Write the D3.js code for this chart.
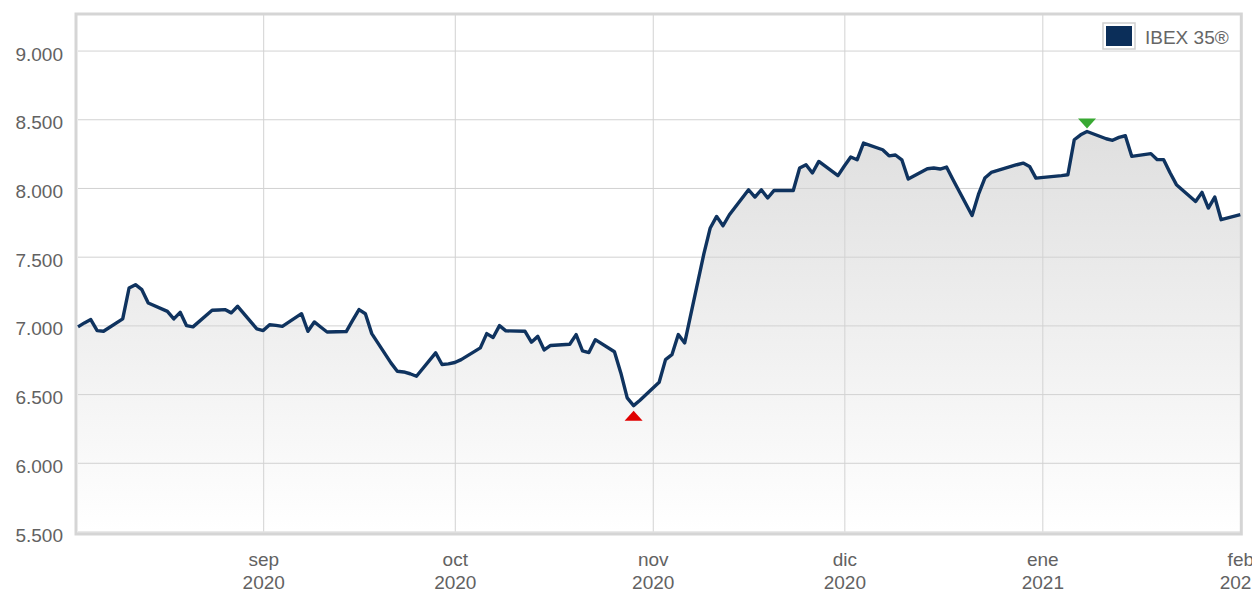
<!DOCTYPE html>
<html>
<head>
<meta charset="utf-8">
<script src="https://cdn.jsdelivr.net/npm/d3@7"></script>
<style>
  body { margin: 0; background: #fff; }
  svg { display: block; font-family: "Liberation Sans", Arial, sans-serif; }
</style>
</head>
<body>
<script>
// IBEX 35 daily close, 3 Aug 2020 - 1 Feb 2021
const days = [
  "2020-08-03","2020-08-04","2020-08-05","2020-08-06","2020-08-07",
  "2020-08-10","2020-08-11","2020-08-12","2020-08-13","2020-08-14",
  "2020-08-17","2020-08-18","2020-08-19","2020-08-20","2020-08-21",
  "2020-08-24","2020-08-25","2020-08-26","2020-08-27","2020-08-28",
  "2020-08-31","2020-09-01","2020-09-02","2020-09-03","2020-09-04",
  "2020-09-07","2020-09-08","2020-09-09","2020-09-10","2020-09-11",
  "2020-09-14","2020-09-15","2020-09-16","2020-09-17","2020-09-18",
  "2020-09-21","2020-09-22","2020-09-23","2020-09-24","2020-09-25",
  "2020-09-28","2020-09-29","2020-09-30","2020-10-01","2020-10-02",
  "2020-10-05","2020-10-06","2020-10-07","2020-10-08","2020-10-09",
  "2020-10-12","2020-10-13","2020-10-14","2020-10-15","2020-10-16",
  "2020-10-19","2020-10-20","2020-10-21","2020-10-22","2020-10-23",
  "2020-10-26","2020-10-27","2020-10-28","2020-10-29","2020-10-30",
  "2020-11-02","2020-11-03","2020-11-04","2020-11-05","2020-11-06",
  "2020-11-09","2020-11-10","2020-11-11","2020-11-12","2020-11-13",
  "2020-11-16","2020-11-17","2020-11-18","2020-11-19","2020-11-20",
  "2020-11-23","2020-11-24","2020-11-25","2020-11-26","2020-11-27",
  "2020-11-30","2020-12-01","2020-12-02","2020-12-03","2020-12-04",
  "2020-12-07","2020-12-08","2020-12-09","2020-12-10","2020-12-11",
  "2020-12-14","2020-12-15","2020-12-16","2020-12-17","2020-12-18",
  "2020-12-21","2020-12-22","2020-12-23","2020-12-24",
  "2020-12-28","2020-12-29","2020-12-30","2020-12-31",
  "2021-01-04","2021-01-05","2021-01-06","2021-01-07","2021-01-08",
  "2021-01-11","2021-01-12","2021-01-13","2021-01-14","2021-01-15",
  "2021-01-18","2021-01-19","2021-01-20","2021-01-21","2021-01-22",
  "2021-01-25","2021-01-26","2021-01-27","2021-01-28","2021-01-29",
  "2021-02-01"
];
const closes = [
  6989, 7018, 7042, 6962, 6957,
  7047, 7272, 7296, 7260, 7163,
  7102, 7047, 7095, 6998, 6989,
  7110, 7112, 7115, 7091, 7139,
  6974, 6962, 7005, 7000, 6993,
  7085, 6957, 7025, 6988, 6952,
  6955, 7037, 7115, 7085, 6940,
  6727, 6666, 6661, 6648, 6630,
  6800, 6715, 6720, 6730, 6751,
  6836, 6940, 6912, 6998, 6960,
  6957, 6878, 6920, 6821, 6854,
  6863, 6933, 6815, 6802, 6896,
  6808, 6654, 6472, 6416, 6455,
  6586, 6751, 6787, 6933, 6872,
  7520, 7709, 7793, 7725, 7805,
  7987, 7934, 7987, 7927, 7982,
  7982, 8145, 8169, 8109, 8193,
  8090, 8160, 8225, 8205, 8327,
  8278, 8234, 8240, 8205, 8065,
  8140, 8145, 8138, 8152, 8062,
  7800, 7953, 8072, 8113,
  8169, 8181, 8157, 8072,
  8090, 8096, 8351, 8387, 8411,
  8358, 8347, 8368, 8380, 8230,
  8250, 8206, 8206, 8111, 8024,
  7902, 7968, 7854, 7934, 7769,
  7806
];
const yTicks = [5500, 6000, 6500, 7000, 7500, 8000, 8500, 9000];
const monthTicks = ["2020-09-01", "2020-10-01", "2020-11-01", "2020-12-01", "2021-01-01", "2021-02-01"];
const monthNames = ["sep", "oct", "nov", "dic", "ene", "feb"];
const seriesName = "IBEX 35®";

const width = 1252, height = 593;
const plotLeft = 78, plotRight = 1240.3, plotTop = 14, plotBottom = 531.5;

const parse = d3.utcParse("%Y-%m-%d");
const data = days.map((d, i) => ({ date: parse(d), value: closes[i] }));

const svg = d3.select("body").append("svg")
    .attr("width", width)
    .attr("height", height);

const x = d3.scaleUtc()
    .domain([parse("2020-08-03"), parse("2021-02-01")])
    .range([plotLeft, plotRight]);
const y = d3.scaleLinear()
    .domain([5500, 9266])
    .range([plotBottom, plotTop]);

const es = d3.formatLocale({ decimal: ",", thousands: ".", grouping: [3], currency: ["", "€"] });
const fmt = es.format(",d");

const grad = svg.append("defs").append("linearGradient")
    .attr("id", "fade")
    .attr("gradientUnits", "userSpaceOnUse")
    .attr("x1", 0).attr("x2", 0)
    .attr("y1", plotTop).attr("y2", plotBottom);
grad.append("stop").attr("offset", 0).attr("stop-color", "#d6d6d6");
grad.append("stop").attr("offset", 1).attr("stop-color", "#ffffff");

// area under the line
svg.append("path")
    .datum(data)
    .attr("fill", "url(#fade)")
    .attr("d", d3.area().x(d => x(d.date)).y0(plotBottom).y1(d => y(d.value)));

// horizontal grid + labels
const yAxis = svg.append("g")
    .attr("transform", `translate(${plotLeft},0)`)
    .call(d3.axisLeft(y).tickValues(yTicks).tickFormat(fmt)
        .tickSize(-(plotRight - plotLeft)).tickPadding(15));
yAxis.select(".domain").remove();
yAxis.selectAll(".tick line").attr("stroke", "#d2d2d2");
yAxis.selectAll(".tick text")
    .attr("dy", "0.5em")
    .attr("fill", "#626262")
    .style("font-size", "19px");

// vertical grid + month labels
const xAxis = svg.append("g")
    .attr("transform", `translate(0,${plotBottom})`)
    .call(d3.axisBottom(x).tickValues(monthTicks.map(parse))
        .tickSize(-(plotBottom - plotTop)).tickFormat(""));
xAxis.select(".domain").remove();
xAxis.selectAll(".tick line").attr("stroke", "#d2d2d2");
xAxis.selectAll(".tick text")
    .attr("y", 0).attr("dy", null)
    .attr("fill", "#626262")
    .style("font-size", "19px")
    .each(function (d, i) {
        const t = d3.select(this);
        t.append("tspan").attr("x", 0).attr("dy", 34.5).text(monthNames[i]);
        t.append("tspan").attr("x", 0).attr("dy", 23).text(d3.utcFormat("%Y")(d));
    });

// frame
svg.append("rect")
    .attr("x", plotLeft - 2).attr("y", plotTop)
    .attr("width", plotRight - plotLeft + 3).attr("height", plotBottom - plotTop + 2.5)
    .attr("fill", "none")
    .attr("stroke", "#d5d5d5")
    .attr("stroke-width", 3);

svg.append("path")
    .datum(data)
    .attr("fill", "none")
    .attr("stroke", "#0f335f")
    .attr("stroke-width", 3.4)
    .attr("stroke-linejoin", "round")
    .attr("d", d3.line().x(d => x(d.date)).y(d => y(d.value)));

// min / max markers
const lo = data[d3.minIndex(data, d => d.value)];
const hi = data[d3.maxIndex(data, d => d.value)];
const lx = x(lo.date), ly = y(lo.value) + 5;
svg.append("path")
    .attr("fill", "#e00000")
    .attr("d", `M${lx - 9},${ly + 10}L${lx + 9},${ly + 10}L${lx},${ly}Z`);
const hx = x(hi.date), hy = y(hi.value) - 3;
svg.append("path")
    .attr("fill", "#38a832")
    .attr("d", `M${hx - 9},${hy - 10}L${hx + 9},${hy - 10}L${hx},${hy}Z`);

// legend
const legend = svg.append("g");
legend.append("rect")
    .attr("x", 1103).attr("y", 23).attr("width", 32).attr("height", 26)
    .attr("fill", "#fff").attr("stroke", "#d0d0d0").attr("stroke-width", 1.5);
legend.append("rect")
    .attr("x", 1106).attr("y", 26).attr("width", 26).attr("height", 20)
    .attr("fill", "#0b2e59");
legend.append("text")
    .attr("x", 1145).attr("y", 44)
    .attr("fill", "#666")
    .style("font-size", "19px")
    .text(seriesName);
</script>
</body>
</html>
